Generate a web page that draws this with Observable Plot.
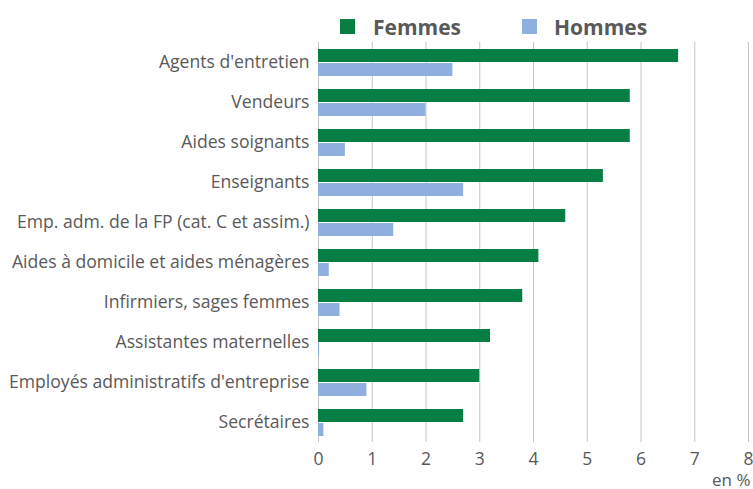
<!DOCTYPE html>
<html><head><meta charset="utf-8">
<script src="https://cdn.jsdelivr.net/npm/d3@7"></script>
<script src="https://cdn.jsdelivr.net/npm/@observablehq/plot@0.6"></script>
<style>
body{margin:0;background:#fff;font-family:"Open Sans",sans-serif;}
#wrap{position:relative;width:753px;height:489px;overflow:hidden;}
#legend{position:relative;height:42px;}
.sw{position:absolute;top:19px;width:15px;height:15px;}
.lt{position:absolute;top:13px;font-weight:bold;font-size:21px;color:#595959;line-height:28px;}
#chart{position:absolute;top:42px;left:0;}
</style></head>
<body><div id="wrap"><div id="legend"></div><div id="chart"></div></div>
<script>
const categories = ["Agents d'entretien","Vendeurs","Aides soignants","Enseignants","Emp. adm. de la FP (cat. C et assim.)","Aides à domicile et aides ménagères","Infirmiers, sages femmes","Assistantes maternelles","Employés administratifs d'entreprise","Secrétaires"];
const femmes = [6.7, 5.8, 5.8, 5.3, 4.6, 4.1, 3.8, 3.2, 3.0, 2.7];
const hommes = [2.5, 2.0, 0.5, 2.7, 1.4, 0.2, 0.4, 0.02, 0.9, 0.1];
const series = ["Femmes","Hommes"];
const colors = ["#077F44","#8EAFE0"];
const xTicks = [0,1,2,3,4,5,6,7,8];

const data = categories.flatMap((c,i)=>[
  {cat:c, sexe:series[0], v:femmes[i]},
  {cat:c, sexe:series[1], v:hommes[i]}
]);

const legend = document.getElementById("legend");
const legPos = [[340,373],[522,554]];
series.forEach((s,i)=>{
  const sw = document.createElement("div"); sw.className="sw"; sw.style.left=legPos[i][0]+"px"; sw.style.background=colors[i]; legend.appendChild(sw);
  const t = document.createElement("div"); t.className="lt"; t.style.left=legPos[i][1]+"px"; t.textContent=s; legend.appendChild(t);
});

const chart = Plot.plot({
  width:753, height:447, marginTop:0, marginBottom:47, marginLeft:318, marginRight:5,
  style:{fontFamily:"'Open Sans', sans-serif", color:"#595959", background:"transparent"},
  x:{domain:[0,8]},
  y:{domain:series, axis:null, paddingInner:0.1, paddingOuter:0.43},
  fy:{domain:categories, padding:0, label:null},
  color:{domain:series, range:colors},
  marks:[
    Plot.ruleX(xTicks, {stroke:"#c4c4c4", strokeOpacity:1, strokeWidth:1}),
    Plot.barX(data, {x:"v", y:"sexe", fy:"cat", fill:"sexe"}),
    Plot.axisX({ticks:xTicks, tickSize:0, tickPadding:10, fontSize:17.5, label:null}),
    Plot.axisX({ticks:[], tickSize:0, fontSize:17, label:"en %", labelArrow:"none", labelAnchor:"right", labelOffset:43, dx:-3}),
    Plot.axisFy({anchor:"left", tickSize:0, tickPadding:9, fontSize:17.6, label:null})
  ]
});
document.getElementById("chart").appendChild(chart);
</script></body></html>
